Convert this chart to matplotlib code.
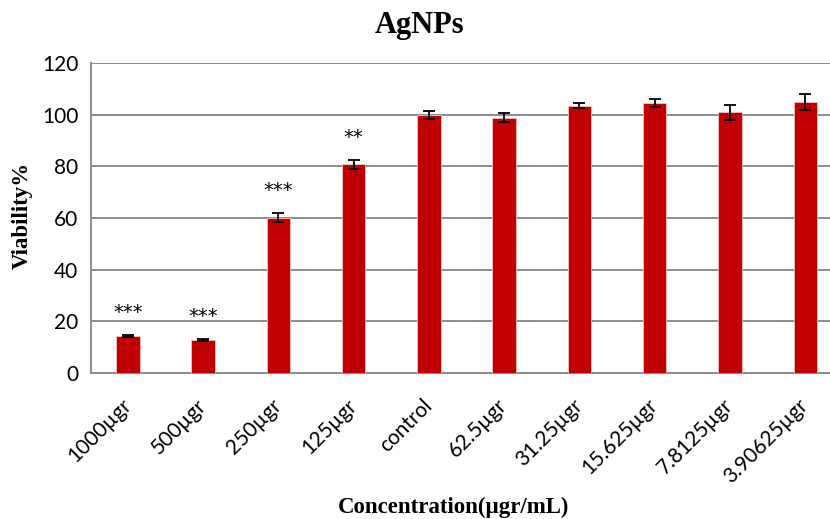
import matplotlib
matplotlib.use("Agg")
import matplotlib.pyplot as plt
import numpy as np

# cell viability per concentration
labels = ["1000µgr", "500µgr", "250µgr", "125µgr", "control",
          "62.5µgr", "31.25µgr", "15.625µgr", "7.8125µgr", "3.90625µgr"]
viability = [14.4, 12.8, 60.1, 80.8, 99.8, 98.8, 103.4, 104.5, 100.9, 104.9]
errors = [0.5, 0.5, 1.8, 1.7, 1.5, 1.7, 1.0, 1.7, 2.8, 3.0]
stars = ["***", "***", "***", "**", "", "", "", "", "", ""]

fig = plt.figure(figsize=(8.3, 5.19), dpi=100)
ax = fig.add_axes([91 / 830, 1 - 373 / 519, (830 - 91) / 830, 310 / 519])

x = np.arange(len(labels))
ax.bar(x, viability, width=0.31, color="#C00000", edgecolor="#F2C4C4",
       linewidth=0.6, zorder=3)
ax.errorbar(x, viability, yerr=errors, fmt="none", ecolor="black",
            elinewidth=1.3, capsize=4, capthick=1.3, zorder=4)

for xi, v, e, s in zip(x, viability, errors, stars):
    if s:
        ax.text(xi, v + e + 5, s, ha="center", va="bottom", fontsize=14,
                family="DejaVu Sans")

ax.set_xlim(-0.49, 9.33)
ax.set_ylim(0, 120)
ax.set_yticks(range(0, 121, 20))
ax.yaxis.grid(True, color="#8c8c8c", linewidth=1.4, zorder=0)
ax.set_axisbelow(True)
ax.tick_params(axis="y", length=0, labelsize=15, pad=9)
ax.tick_params(axis="x", length=0, pad=21)
ax.set_xticks(x)
ax.set_xticklabels(labels, rotation=45, ha="right", va="center",
                   rotation_mode="anchor", fontsize=15, family="Lato")
for lab in ax.get_yticklabels():
    lab.set_family("Lato")

for side in ["top", "right"]:
    ax.spines[side].set_visible(False)
for side in ["left", "bottom"]:
    ax.spines[side].set_color("#8c8c8c")
    ax.spines[side].set_linewidth(1.4)

fig.text(0.506, 1 - 33 / 519, "AgNPs", ha="center", va="baseline",
         fontsize=22, fontweight="bold", family="Liberation Serif")
fig.text(0.027, 1 - 215 / 519, "Viability%", ha="center", va="center",
         rotation=90, fontsize=16.5, fontweight="bold",
         family="Liberation Serif")
fig.text(0.547, 1 - 507 / 519, "Concentration(µgr/mL)", ha="center",
         va="center", fontsize=16.5, fontweight="bold",
         family="Liberation Serif")

fig.savefig("out.png", dpi=100)
